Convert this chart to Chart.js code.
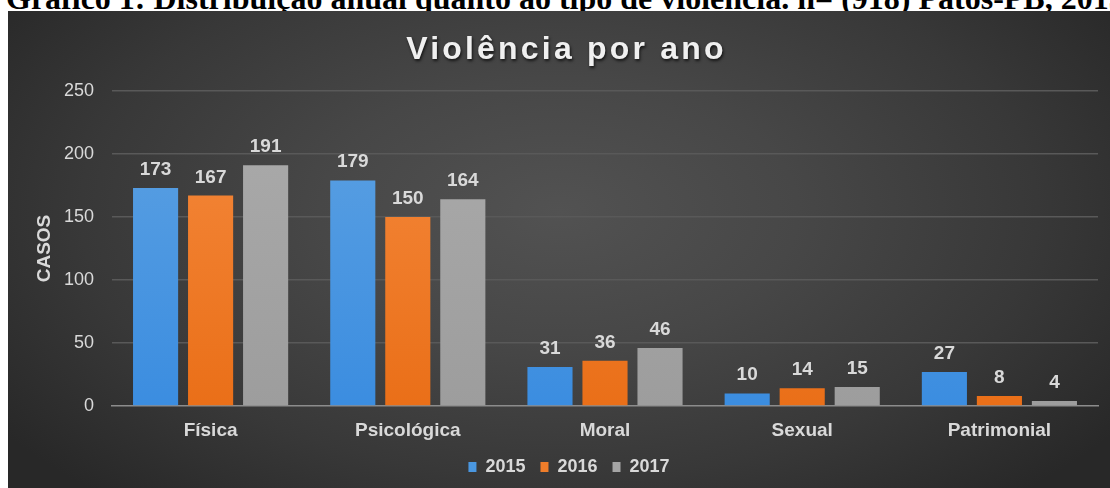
<!DOCTYPE html>
<html><head><meta charset="utf-8">
<script src="https://cdn.jsdelivr.net/npm/chart.js@4.4.1/dist/chart.umd.min.js"></script>
<style>
html,body{margin:0;padding:0;width:1110px;height:488px;overflow:hidden;background:#fff;}
#cap{position:absolute;left:6px;top:-18px;font:bold 32px "Liberation Serif","Times New Roman",serif;line-height:32px;white-space:nowrap;color:#000;}
#panel{position:absolute;left:8px;top:11px;width:1102px;height:477px;
 background:radial-gradient(ellipse 62% 80% at 50% 42%, #525252 0%, #474747 35%, #383838 70%, #282828 100%);}
#title{position:absolute;left:0;width:100%;top:21px;text-align:center;padding-left:15px;box-sizing:border-box;
 font:bold 32px "Liberation Sans",Arial,sans-serif;line-height:32px;letter-spacing:3.2px;color:#f0f0f0;
 text-shadow:1px 2px 3px rgba(0,0,0,0.7);}
#c{position:absolute;left:0;top:0;}
</style></head>
<body>
<div id="cap">Gráfico 1: Distribuição anual quanto ao tipo de violência. n= (918) Patos-PB, 2015-2017</div>
<div id="panel">
<canvas id="c" width="1102" height="477"></canvas>
<div id="title">Violência por ano</div>
</div>
<script>
const categories = ["Física", "Psicológica", "Moral", "Sexual", "Patrimonial"];
const years = ["2015", "2016", "2017"];
const values2015 = [173, 179, 31, 10, 27];
const values2016 = [167, 150, 36, 14, 8];
const values2017 = [191, 164, 46, 15, 4];
const yTicks = [0, 50, 100, 150, 200, 250];

const palette = [
  {top:'#5ea2e2', bottom:'#3b8de0', solid:'#4a97e0'},
  {top:'#f58a3e', bottom:'#ea6f18', solid:'#ef7d2a'},
  {top:'#ababab', bottom:'#9d9d9d', solid:'#a5a5a5'}
];
function grad(i){
  return (ctx)=>{
    const ch = ctx.chart, a = ch.chartArea;
    if(!a) return palette[i].solid;
    const g = ch.ctx.createLinearGradient(0, a.top, 0, a.bottom);
    g.addColorStop(0, palette[i].top);
    g.addColorStop(1, palette[i].bottom);
    return g;
  };
}
const labelPlugin = {
  id:'vals',
  afterDatasetsDraw(chart){
    const ctx = chart.ctx;
    ctx.save();
    ctx.font = 'bold 19px "Liberation Sans", Arial, sans-serif';
    ctx.fillStyle = '#d9d9d9';
    ctx.textAlign = 'center';
    ctx.textBaseline = 'alphabetic';
    chart.data.datasets.forEach((ds, i) => {
      chart.getDatasetMeta(i).data.forEach((bar, j) => {
        ctx.fillText(String(ds.data[j]), bar.x, bar.y - 13);
      });
    });
    ctx.restore();
  }
};
const legendShift = {
  id:'legendShift',
  afterLayout(chart){
    if(chart.legend){ chart.legend.left += 16; chart.legend.right += 16; }
  }
};
const series = [values2015, values2016, values2017];
new Chart(document.getElementById('c'), {
  type:'bar',
  data:{
    labels: categories,
    datasets: series.map((d, i) => ({
      label: years[i], data: d,
      backgroundColor: grad(i),
      borderWidth: 0,
      categoryPercentage: 0.837,
      barPercentage: 0.82
    }))
  },
  options:{
    responsive:false, animation:false,
    layout:{padding:{top:80, right:12, left:0, bottom:2}},
    plugins:{
      tooltip:{enabled:false},
      title:{display:false},
      legend:{
        position:'bottom',
        labels:{
          color:'#d9d9d9',
          font:{family:'"Liberation Sans", Arial, sans-serif', size:18, weight:'bold'},
          boxWidth:8, boxHeight:10, padding:15,
          generateLabels(chart){
            return chart.data.datasets.map((ds,i)=>({
              text: ds.label, fillStyle: palette[i].solid, strokeStyle: palette[i].solid,
              lineWidth:0, hidden:false, datasetIndex:i, fontColor:'#d9d9d9'
            }));
          }
        }
      }
    },
    scales:{
      x:{
        grid:{display:false, drawTicks:false},
        border:{display:true, color:'#8c8c8c', width:1.5},
        ticks:{color:'#d9d9d9', padding:13, font:{family:'"Liberation Sans", Arial, sans-serif', size:19, weight:'bold'}},
        afterFit(s){ s.height = 37; }
      },
      y:{
        min:0, max:250,
        afterBuildTicks(s){ s.ticks = yTicks.map(v=>({value:v})); },
        grid:{color:(c)=> c.tick && c.tick.value===0 ? 'rgba(0,0,0,0)' : '#595959', lineWidth:1.5, drawTicks:false},
        border:{display:false},
        ticks:{color:'#d9d9d9', padding:18, font:{family:'"Liberation Sans", Arial, sans-serif', size:18}},
        title:{display:true, text:'CASOS', color:'#d9d9d9', padding:{top:25,bottom:0},
          font:{family:'"Liberation Sans", Arial, sans-serif', size:19, weight:'bold'}},
        afterFit(s){ s.width = 104; }
      }
    }
  },
  plugins:[labelPlugin, legendShift]
});
</script>
</body></html>
